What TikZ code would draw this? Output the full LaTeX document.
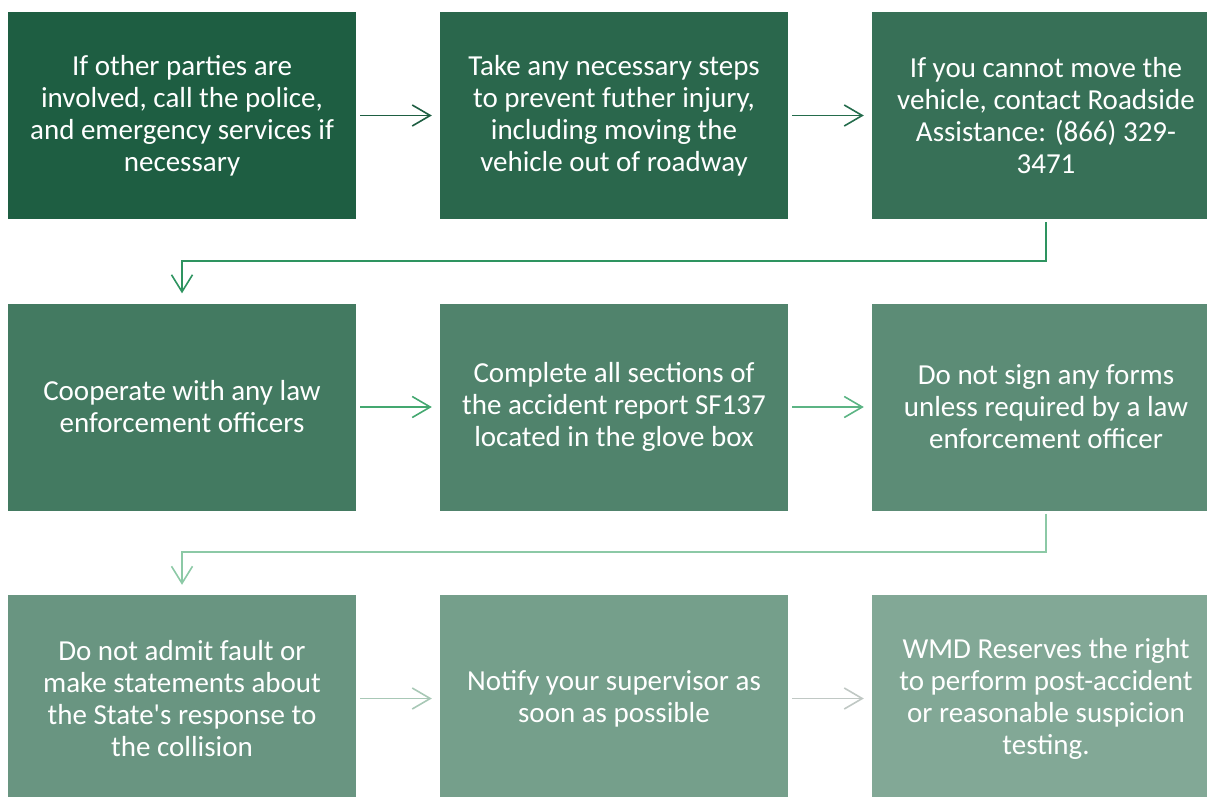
\documentclass[tikz,border=0pt]{standalone}
\usepackage{fontspec}
\setmainfont{Carlito}
\usetikzlibrary{arrows.meta}
% straight apostrophe, set as a glyph so that no TeX ligature mapping curls it
\newcommand{\straightquote}{\XeTeXglyph\XeTeXcharglyph"0027\relax}
\definecolor{c1}{RGB}{30,94,66}
\definecolor{c2}{RGB}{42,103,76}
\definecolor{c3}{RGB}{55,112,87}
\definecolor{c4}{RGB}{67,122,97}
\definecolor{c5}{RGB}{80,131,108}
\definecolor{c6}{RGB}{92,140,118}
\definecolor{c7}{RGB}{105,149,129}
\definecolor{c8}{RGB}{117,159,139}
\definecolor{c9}{RGB}{130,168,150}
\definecolor{a1}{RGB}{30,94,66}
\definecolor{a2}{RGB}{36,108,76}
\definecolor{a3}{RGB}{46,148,96}
\definecolor{a4}{RGB}{68,168,112}
\definecolor{a5}{RGB}{92,180,132}
\definecolor{a6}{RGB}{140,201,166}
\definecolor{a7}{RGB}{168,200,182}
\definecolor{a8}{RGB}{192,200,196}
\tikzset{
  stepbox/.style={rectangle, minimum width=348pt, minimum height=207pt,
    inner sep=0pt, text=white, align=center,
    font=\fontsize{29pt}{32pt}\selectfont},
  flow/.style={line width=1.6pt, -{Straight Barb[length=18pt,width=21pt,line width=1.6pt]}},
  turn/.style={line width=2pt, -{Straight Barb[length=17pt,width=21pt,line width=1.6pt]}}
}
\begin{document}
\begin{tikzpicture}[x=1pt,y=-1pt]
\useasboundingbox (0,0) rectangle (1207,796);
\begin{scope}
\clip (0,0) rectangle (1207,796);
% row 1
\node[stepbox, fill=c1] (b1) at (182,115.5) {If other parties are\\involved, call the police,\\and emergency services if\\necessary};
\node[stepbox, fill=c2] (b2) at (614,115.5) {Take any necessary steps\\to prevent futher injury,\\including moving the\\vehicle out of roadway};
\node[stepbox, fill=c3] (b3) at (1046,115.5) {If you cannot move the\\vehicle, contact Roadside\\Assistance: (866) 329-\\3471};
% row 2
\node[stepbox, fill=c4] (b4) at (182,407) {Cooperate with any law\\enforcement officers};
\node[stepbox, fill=c5] (b5) at (614,407) {Complete all sections of\\the accident report SF137\\located in the glove box};
\node[stepbox, fill=c6] (b6) at (1046,407) {Do not sign any forms\\unless required by a law\\enforcement officer};
% row 3
\node[stepbox, fill=c7] (b7) at (182,698.5) {Do not admit fault or\\make statements about\\the State\straightquote s response to\\the collision};
\node[stepbox, fill=c8] (b8) at (614,698.5) {Notify your supervisor as\\soon as possible};
\node[stepbox, fill=c9] (b9) at (1046,698.5) {WMD Reserves the right\\to perform post-accident\\or reasonable suspicion\\testing.};
\end{scope}
% connectors within rows
\draw[flow, a1] ([xshift=4pt]b1.east) -- ([xshift=-8pt]b2.west);
\draw[flow, a2] ([xshift=4pt]b2.east) -- ([xshift=-8pt]b3.west);
\draw[flow, a4] ([xshift=4pt]b4.east) -- ([xshift=-8pt]b5.west);
\draw[flow, a5] ([xshift=4pt]b5.east) -- ([xshift=-8pt]b6.west);
\draw[flow, a7] ([xshift=4pt]b7.east) -- ([xshift=-8pt]b8.west);
\draw[flow, a8] ([xshift=4pt]b8.east) -- ([xshift=-8pt]b9.west);
% connectors between rows
\draw[turn, a3] ([yshift=-3pt]b3.south) -- ++(0,39) -| ([yshift=10pt]b4.north);
\draw[turn, a6] ([yshift=-3pt]b6.south) -- ++(0,38) -| ([yshift=10pt]b7.north);
\end{tikzpicture}
\end{document}
